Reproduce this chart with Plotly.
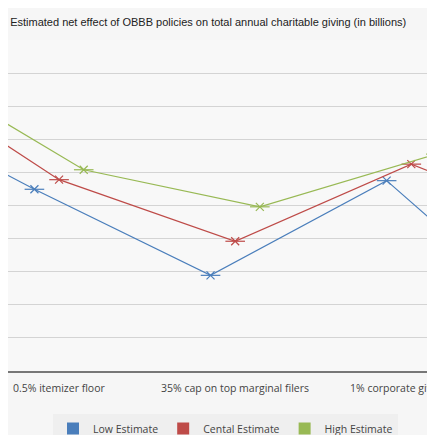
import plotly.graph_objects as go

# categories (first and last lie outside the visible crop)
categories = ["", "0.5% itemizer floor", "35% cap on top marginal filers", "1% corporate giving floor", ""]
low_estimate = [8.3, 5.49, 2.89, 5.75, 1.1]
central_estimate = [9.26, 5.78, 3.92, 6.25, 4.1]
high_estimate = [9.26, 6.08, 4.96, 6.55, 6.1]

series = [
    ("Low Estimate", low_estimate, "#4a7ebb", -0.14),
    ("Cental Estimate", central_estimate, "#be4b48", 0.0),
    ("High Estimate", high_estimate, "#98b954", 0.14),
]

fig = go.Figure()
for name, vals, color, off in series:
    xs = [i + off for i in range(len(vals))]
    fig.add_trace(go.Scatter(
        x=xs, y=vals, mode="lines+markers", showlegend=False,
        line=dict(color=color, width=1.2),
        marker=dict(symbol="x-thin", size=8, line=dict(color=color, width=1.2)),
    ))
    fig.add_trace(go.Scatter(
        x=xs, y=vals, mode="markers", showlegend=False, hoverinfo="skip",
        marker=dict(symbol="line-ew", size=14, line=dict(color=color, width=1.2)),
    ))
    # legend entry with square swatch
    fig.add_trace(go.Scatter(
        x=[None], y=[None], mode="markers", name=name,
        marker=dict(symbol="square", size=11, color=color),
    ))

# category labels as annotations so the clipped one still shows
for i, label in enumerate(categories):
    if label:
        fig.add_annotation(x=i, y=0, yref="y", yshift=-17, text=label, showarrow=False,
                           xanchor="center", font=dict(family="Open Sans, DejaVu Sans", size=10.5, color="#444"))

fig.update_layout(
    width=435, height=435,
    margin=dict(l=0, r=0, t=32, b=64),
    paper_bgcolor="#f6f6f6", plot_bgcolor="#f8f8f8",
    title=dict(text="Estimated net effect of OBBB policies on total annual charitable giving (in billions)",
               x=0.005, xanchor="left", y=0.968, yanchor="middle",
               font=dict(family="Liberation Sans, Arial", size=11, color="#222")),
    xaxis=dict(range=[0.71, 3.18], showticklabels=False,
               showgrid=False, zeroline=False, showline=True, linecolor="#777", linewidth=2,
               ticks=""),
    yaxis=dict(range=[0, 10], dtick=1, showticklabels=False, gridcolor="#d4d4d4",
               zeroline=False, showline=False),
    legend=dict(orientation="h", x=0.5, xanchor="center", y=-0.13, yanchor="top",
                bgcolor="#efefef", font=dict(family="Open Sans, DejaVu Sans", size=10.5, color="#444"),
                itemsizing="constant"),
)
fig.write_html("out.html")
